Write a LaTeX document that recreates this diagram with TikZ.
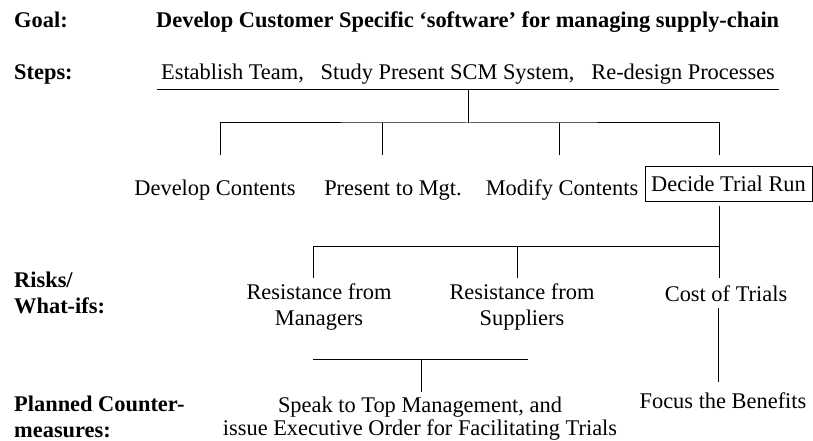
\documentclass[tikz,border=0pt]{standalone}
\usepackage{fontspec}
\setmainfont{Liberation Serif}
\usetikzlibrary{positioning}

\begin{document}
\begin{tikzpicture}[
    x=1pt, y=-1pt,
    every node/.style={font=\fontsize{22.4}{26}\selectfont, inner sep=0pt},
    heading/.style={anchor=base west, align=left, font=\fontsize{22.4}{26}\selectfont\bfseries},
    item/.style={anchor=base, align=center},
    decision/.style={rectangle, draw, line width=1pt, minimum width=167pt, minimum height=35pt},
    line/.style={draw, line width=1pt}
]
\useasboundingbox (0,0) rectangle (813,441);

% Headings on the left (multi-line nodes sit on their last line)
\node[heading] (goallbl) at (14,28) {Goal:};
\node[heading] (stepslbl) at (14,80) {Steps:};
\node[heading] (riskslbl) at (14,313) {Risks/\\What-ifs:};
\node[heading] (counterlbl) at (14,437) {Planned Counter-\\measures:};

% Goal and steps
\node[heading] (goal) at (156,28) {Develop Customer Specific ‘software’ for managing supply-chain};
\node[item, inner xsep=4pt, inner ysep=4.4pt] (steps) at (468,80) {Establish Team,\hspace{0.5em} Study Present SCM System,\hspace{0.5em} Re-design Processes};
\draw[line, line width=1.3pt] (steps.south west) -- (steps.south east);

% Activities
\node[item] (devcont) at (215,195) {Develop Contents};
\node[item] (present) at (393,195) {Present to Mgt.};
\node[item] (modify) at (562,195) {Modify Contents};
\node[decision] (trialrun) at (728.5,183.5) {Decide Trial Run};

\coordinate (stepsjoin) at (468,123);
\coordinate (devtop) at (220,155);
\coordinate (prestop) at (382,155);
\coordinate (modtop) at (559,155);
\coordinate (trialtop) at (719,155);
\draw[line] (stepsjoin |- steps.south) -- (stepsjoin);
\draw[line] (devtop) |- (stepsjoin) -| (trialtop);
\draw[line] (prestop) -- (prestop |- stepsjoin);
\draw[line] (modtop) -- (modtop |- stepsjoin);

% Risks / what-ifs
\node[item] (resmgr) at (319,325) {Resistance from\\Managers};
\node[item] (ressup) at (522,325) {Resistance from\\Suppliers};
\node[item] (costtrial) at (726,301) {Cost of Trials};

\coordinate (trialjoin) at (719,246);
\coordinate (mgrtop) at (313,278);
\coordinate (suptop) at (517,278);
\coordinate (costtop) at (719,278);
\draw[line, shorten <=4pt] (trialjoin |- trialrun.south) -- (costtop);
\draw[line] (mgrtop) |- (trialjoin);
\draw[line] (suptop) -- (suptop |- trialjoin);

% Counter-measures
\node[item] (speaktop) at (420,435) {Speak to Top Management, and\\[-3pt]issue Executive Order for Facilitating Trials};
\node[item] (focusben) at (723,408) {Focus the Benefits};

\coordinate (counterjoin) at (421,359);
\coordinate (mgrbot) at (313,359);
\coordinate (supbot) at (528,359);
\coordinate (costbot) at (718,308);
\coordinate (focustop) at (718,382);
\draw[line] (mgrbot) -- (supbot);
\draw[line, shorten >=4pt] (counterjoin) -- (counterjoin |- speaktop.north);
\draw[line] (costbot) -- (focustop);

\end{tikzpicture}
\end{document}
